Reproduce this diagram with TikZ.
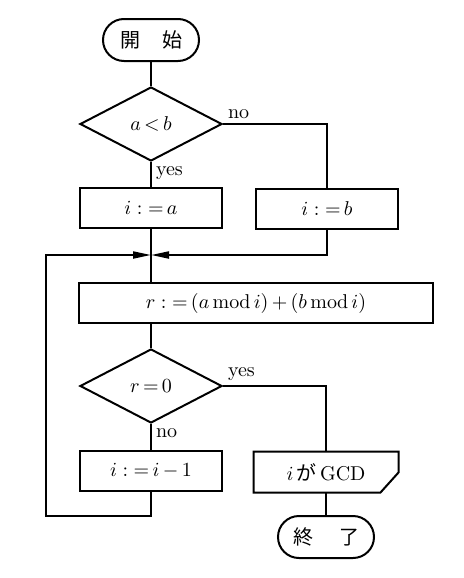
\documentclass[tikz,border=0pt]{standalone}
\usepackage{fontspec}
\newfontfamily\jpfont{Noto Sans CJK JP}
\usetikzlibrary{arrows.meta, shapes.geometric}

\begin{document}
\begin{tikzpicture}[
  x=0.5pt, y=-0.5pt, line width=1pt,
  terminal/.style={rectangle, rounded corners=10.5pt, draw, minimum width=48pt,
                   minimum height=21pt, inner sep=0pt},
  decision/.style={diamond, draw, minimum width=71pt, minimum height=37pt,
                   inner sep=0pt},
  process/.style={rectangle, draw, minimum width=71pt, minimum height=20pt,
                  inner sep=0pt},
  output/.style={rectangle, minimum width=71.5pt, minimum height=19.5pt,
                 inner sep=0pt},
  branch/.style={inner sep=2pt},
  arrow/.style={-{Triangle[length=9pt, width=3.5pt]}},
]
\useasboundingbox (0,0) rectangle (464,578);
\node[terminal] (start) at (151,40) {\jpfont 開\hspace{1.1em}始};
\node[decision] (cmp)   at (151,124) {$a\,{<}\,b$};
\node[process]  (seta)  at (151,208) {$i\;{:}\;{=}\,a$};
\node[process]  (setb)  at (327,209) {$i\;{:}\;{=}\,b$};
\coordinate (merge) at (151,255);
\node[process, minimum width=177pt] (rem) at (256,303)
  {$r\;{:}\;{=}\,(a\,\mathrm{mod}\,i)\,{+}\,(b\,\mathrm{mod}\,i)$};
\node[decision] (zero) at (151,386) {$r\,{=}\,0$};
\node[process]  (dec)  at (151,471) {$i\;{:}\;{=}\,i\,{-}\,1$};
\node[output]   (gcd)  at (326,472) {$i$\,{\jpfont が}\,GCD};
\node[terminal] (stop) at (326,537) {\jpfont 終\hspace{1.3em}了};
\coordinate (loopbot) at (46,516);
\draw (gcd.north west) -- (gcd.north east) -- ([yshift=10pt]gcd.south east)
  -- ([xshift=-9pt]gcd.south east) -- (gcd.south west) -- cycle;
\draw (start) -- (cmp);
\draw (cmp) -- node[branch, pos=0, anchor=north west] {yes} (seta);
\draw (cmp.east) node[branch, anchor=south west] {no} -| (setb.north);
\draw (seta.south) -- (seta.south |- rem.north);
\draw[arrow] (setb) |- (merge);
\draw[arrow] (dec) |- (loopbot) |- (merge);
\draw (rem.south -| zero.north) -- (zero.north);
\draw (zero) -- node[branch, pos=0, anchor=north west] {no} (dec);
\draw (zero.east) node[branch, anchor=south west] {yes} -| (gcd.north);
\draw (gcd) -- (stop);
\end{tikzpicture}
\end{document}
